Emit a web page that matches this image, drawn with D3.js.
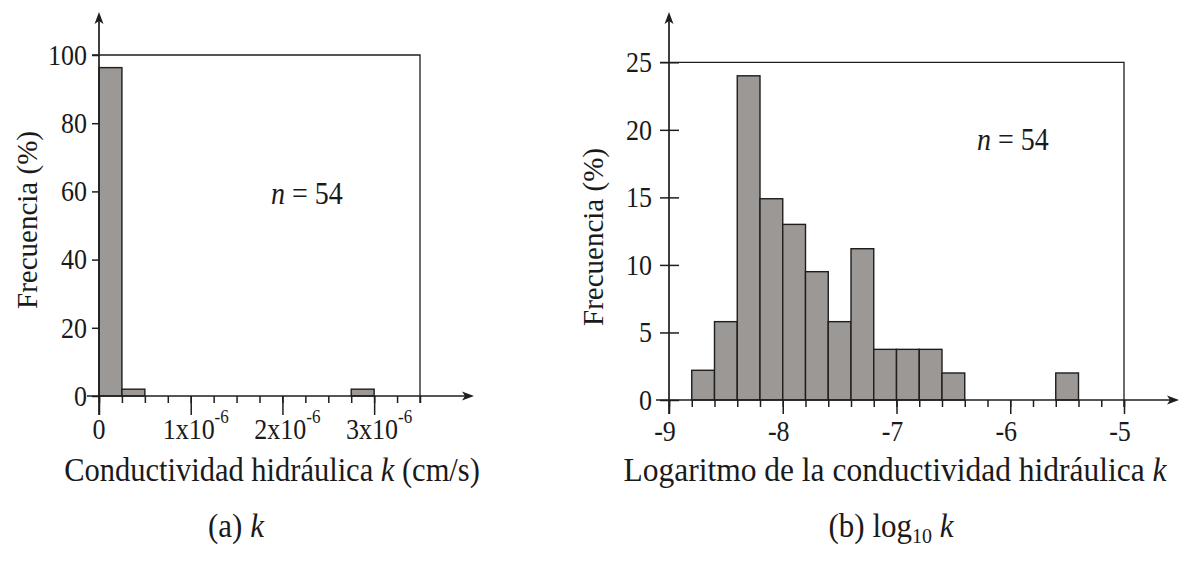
<!DOCTYPE html>
<html>
<head>
<meta charset="utf-8">
<script src="https://cdn.jsdelivr.net/npm/d3@7"></script>
<style>
  body { margin: 0; background: #fff; }
  text { font-family: "Liberation Serif", "Times New Roman", serif; fill: #1a1a1a; }
</style>
</head>
<body>
<div id="figure_area"></div>
<script>
// ----- ----- ----- ----- ----- ----- ----- ----- -----
// DATA
// (a) k, bins of 0.25e-6 cm/s
var binWidthK = 0.25e-6;
var binStartK = [0, 0.25e-6, 2.75e-6];
var freqK = [96.3, 2.0, 2.0];
var xMajorK = [0, 1e-6, 2e-6, 3e-6];
var xLabelK = ["0", "1x10", "2x10", "3x10"];
var xExpK = ["", "-6", "-6", "-6"];
var yTicksK = [0, 20, 40, 60, 80, 100];

// (b) log10 k, bins of 0.2
var binWidthLog = 0.2;
var binStartLog = [-8.8, -8.6, -8.4, -8.2, -8.0, -7.8, -7.6, -7.4, -7.2, -7.0, -6.8, -6.6, -5.6];
var freqLog = [2.2, 5.8, 24.0, 14.9, 13.0, 9.5, 5.8, 11.2, 3.75, 3.75, 3.75, 2.0, 2.0];
var xMajorLog = [-9, -8, -7, -6, -5];
var yTicksLog = [0, 5, 10, 15, 20, 25];

// ----- ----- ----- ----- ----- ----- ----- ----- -----
// FIGURE
const W = 1180, H = 561;
const ink = "#1e1e1e";
const barFill = "#9b9896";
const sy = 1.1; // glyphs in the source look slightly taller than Times

var svg = d3.select("#figure_area")
    .append("svg")
    .attr("width", W)
    .attr("height", H);

// text placed at (x, y) and stretched a little vertically
function label(parent, x, y, size, anchor) {
    return parent.append("text")
        .attr("transform", "translate(" + x + "," + y + ") scale(1," + sy + ")")
        .attr("text-anchor", anchor || "middle")
        .attr("font-size", size);
}

function arrowHead(g, x, y, dir) {
    var p = dir === "right"
        ? [[x, y], [x - 12, y - 4.5], [x - 9, y], [x - 12, y + 4.5]]
        : [[x, y], [x - 4.5, y + 12], [x, y + 9], [x + 4.5, y + 12]];
    g.append("path")
        .attr("d", "M" + p.map(d => d.join(",")).join("L") + "Z")
        .attr("fill", ink);
}

function drawPanel(o) {
    var g = svg.append("g");
    var x = d3.scaleLinear().domain(o.xDomain).range(o.xRange);
    var y = d3.scaleLinear().domain(o.yDomain).range(o.yRange);
    var y0 = y(0), x0 = o.xRange[0];

    // bars
    g.selectAll("rect.bar")
        .data(o.starts.map((s, i) => ({ s: s, f: o.freq[i] })))
        .join("rect")
        .attr("class", "bar")
        .attr("x", d => x(d.s))
        .attr("width", d => x(d.s + o.bw) - x(d.s))
        .attr("y", d => y(d.f))
        .attr("height", d => y0 - y(d.f))
        .attr("fill", barFill)
        .attr("stroke", ink)
        .attr("stroke-width", 1.4);

    // frame top + right
    g.append("path")
        .attr("d", "M" + (x0 - o.yTickOut) + "," + o.yRange[1] +
            "H" + o.xRange[1] + "V" + (y0 + o.minorLen))
        .attr("fill", "none")
        .attr("stroke", ink)
        .attr("stroke-width", 1.3);

    // x minor / major ticks
    var minorAxis = d3.axisBottom(x).tickValues(o.minorTicks).tickSize(o.minorLen).tickFormat("");
    var majorAxis = d3.axisBottom(x).tickValues(o.majorTicks).tickSize(o.majorLen).tickFormat("");
    var gm = g.append("g").attr("transform", "translate(0," + y0 + ")").call(minorAxis);
    var gM = g.append("g").attr("transform", "translate(0," + y0 + ")").call(majorAxis);
    [gm, gM].forEach(a => {
        a.select(".domain").remove();
        a.selectAll("line").attr("stroke", ink).attr("stroke-width", 1.5);
    });

    // y ticks
    var yAxis = d3.axisLeft(y).tickValues(o.yTicks).tickSizeOuter(0).tickFormat("");
    var gy = g.append("g").attr("transform", "translate(" + x0 + ",0)").call(yAxis);
    gy.select(".domain").remove();
    gy.selectAll("line")
        .attr("x2", -o.yTickOut)
        .attr("x1", o.yTickIn)
        .attr("stroke", ink).attr("stroke-width", 1.5);
    o.yTicks.forEach(v => {
        label(g, x0 - o.yLabGap, y(v), 26, "end").attr("dy", "0.34em").text(v);
    });

    // axis lines with arrows
    g.append("line")
        .attr("x1", x0).attr("x2", x0)
        .attr("y1", y0 + o.majorLen).attr("y2", o.yTop + 6)
        .attr("stroke", ink).attr("stroke-width", 1.7);
    arrowHead(g, x0, o.yTop, "up");
    g.append("line")
        .attr("x1", o.xStart).attr("x2", o.xTip - 6)
        .attr("y1", y0).attr("y2", y0)
        .attr("stroke", ink).attr("stroke-width", 1.7);
    arrowHead(g, o.xTip, y0, "right");

    // y title
    g.append("text")
        .attr("transform", "translate(" + o.yTitleX + "," + o.yTitleY + ") rotate(-90)")
        .attr("text-anchor", "middle")
        .attr("font-size", 29)
        .text("Frecuencia (%)");

    // n = 54
    var nt = label(g, o.nX, o.nY, 28, "start");
    nt.append("tspan").attr("font-style", "italic").text("n");
    nt.append("tspan").text(" = 54");

    return { g: g, x: x, y: y, y0: y0 };
}

// ----- (a) k
var pa = drawPanel({
    xDomain: [0, 3.5e-6], xRange: [99, 420],
    yDomain: [0, 100], yRange: [396, 55],
    starts: binStartK, freq: freqK, bw: binWidthK,
    minorTicks: d3.range(0, 15).map(i => i * binWidthK),
    majorTicks: xMajorK,
    minorLen: 7, majorLen: 19,
    yTicks: yTicksK, yTickOut: 7, yTickIn: 0, yLabGap: 12,
    yTop: 12, xStart: 87, xTip: 474,
    yTitleX: 37, yTitleY: 220,
    nX: 271, nY: 204
});
xMajorK.forEach((d, i) => {
    var t = label(pa.g, pa.x(d) + (i ? 5 : 0), 439, 26);
    t.append("tspan").text(xLabelK[i]);
    if (xExpK[i]) t.append("tspan").attr("dy", -15).attr("font-size", 17).text(xExpK[i]);
});
var ta = label(pa.g, 272, 481, 30.5);
ta.append("tspan").text("Conductividad hidráulica ");
ta.append("tspan").attr("font-style", "italic").text("k");
ta.append("tspan").text(" (cm/s)");

// ----- (b) log10 k
var pb = drawPanel({
    xDomain: [-9, -5], xRange: [669, 1124],
    yDomain: [0, 25], yRange: [400, 62.3],
    starts: binStartLog, freq: freqLog, bw: binWidthLog,
    minorTicks: d3.range(0, 21).map(i => -9 + i * binWidthLog),
    majorTicks: xMajorLog,
    minorLen: 7, majorLen: 14,
    yTicks: yTicksLog, yTickOut: 9, yTickIn: 10, yLabGap: 17,
    yTop: 12, xStart: 656, xTip: 1179,
    yTitleX: 603, yTitleY: 237,
    nX: 977, nY: 150
});
xMajorLog.forEach(d => {
    label(pb.g, pb.x(d) - 4, 441, 26).text(d);
});
var tb = label(pb.g, 895, 481, 31.5);
tb.append("tspan").text("Logaritmo de la conductividad hidráulica ");
tb.append("tspan").attr("font-style", "italic").text("k");

// ----- captions
var ca = label(svg, 236, 537, 31);
ca.append("tspan").text("(a) ");
ca.append("tspan").attr("font-style", "italic").text("k");

var cb = label(svg, 891, 537, 31);
cb.append("tspan").text("(b) log");
cb.append("tspan").attr("font-size", 20).attr("dy", 5).text("10");
cb.append("tspan").attr("dy", -5).text(" ");
cb.append("tspan").attr("font-style", "italic").text("k");
</script>
</body>
</html>
